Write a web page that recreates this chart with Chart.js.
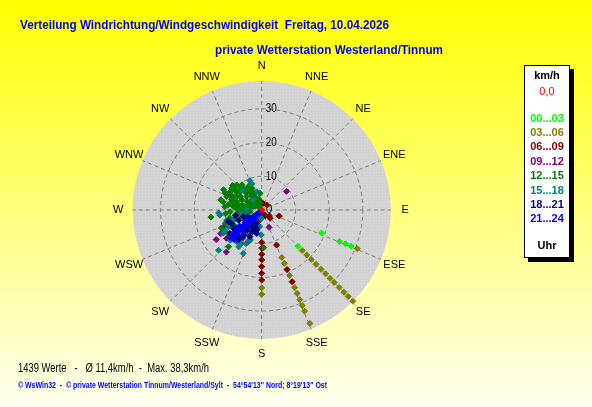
<!DOCTYPE html>
<html>
<head>
<meta charset="utf-8">
<script src="https://cdn.jsdelivr.net/npm/chart.js@4.4.1/dist/chart.umd.min.js"></script>
<style>
  html, body { margin: 0; padding: 0; background: #ffff00; }
  #wrap { width: 592px; height: 407px; }
</style>
</head>
<body>
<div id="wrap"><canvas id="windRose" width="592" height="407"></canvas></div>
<script>
// texts
const titleLine1 = 'Verteilung Windrichtung/Windgeschwindigkeit  Freitag, 10.04.2026';
const titleLine2 = 'private Wetterstation Westerland/Tinnum';
const statsLine = '1439 Werte   -   \u00d8 11,4km/h  -  Max. 38,3km/h';
const footerLine = '\u00a9 WsWin32  -  \u00a9 private Wetterstation Tinnum/Westerland/Sylt  -  54\u00b054\'13\'\' Nord; 8\u00b019\'13\'\' Ost';

// axes
const directionLabels = ['N', 'NNE', 'NE', 'ENE', 'E', 'ESE', 'SE', 'SSE', 'S', 'SSW', 'SW', 'WSW', 'W', 'WNW', 'NW', 'NNW'];
const ringValues = [0, 10, 20, 30];
const maxSpeed = 38.3;

// legend (hour groups)
const groupLabels = ['0,0', '00...03', '03...06', '06...09', '09...12', '12...15', '15...18', '18...21', '21...24'];
const groupColors = ['#ff0000', '#00ff00', '#808000', '#800000', '#800080', '#008000', '#008080', '#000080', '#0000ff'];

// wind direction (deg) and speed (km/h) per hour group
const dirCalm = [0];
const spdCalm = [0];

const dir0003 = [111, 112, 112, 112, 135];
const spd0003 = [19.0, 24.9, 26.8, 28.6, 15.2];

const dir0306 = [112, 135, 135, 135, 135, 135, 135, 135, 135, 135, 135, 135, 135,
  157, 157, 157, 157, 157, 157, 157, 157, 157, 180, 180];
const spd0306 = [30.6, 17.0, 18.9, 20.8, 22.8, 24.9, 26.8, 28.7, 30.4, 32.5, 34.5, 36.3, 38.3,
  15.3, 17.2, 21.1, 25.0, 26.9, 28.9, 30.8, 32.6, 36.6, 23.1, 25.0];

const dir0609 = [180, 180, 180, 180, 180, 180, 180, 157, 157, 157, 135, 109, 128, 333, 0, 199, 162,
  202, 192, 180, 330, 355, 10, 200, 170, 150, 45, 146];
const spd0609 = [9.6, 11.3, 13.1, 14.8, 16.8, 18.8, 20.8, 11.3, 19.2, 23.1, 3.5, 5.5, 2.9, 2.2, 2.2, 1.6, 1.6,
  9.4, 4.8, 1.5, 2.4, 2.3, 2.0, 1.7, 1.6, 2.0, 2.1, 1.8];

const dir0912 = [53, 157, 237, 220, 231, 265, 214, 227, 246, 266, 239, 231, 225, 296, 207, 190, 203, 250, 285, 240, 218];
const spd0912 = [9.2, 5.6, 16.1, 16.3, 13.4, 5.5, 10.0, 12.2, 12.4, 6.9, 5.8, 10.2, 8.4, 10.4, 5.5, 3.0, 10.2, 9.0, 8.0, 14.0, 7.0];

const dir1215 = [300, 307, 310, 320, 327, 338, 339, 291, 289, 298, 297, 312, 315, 329, 279, 277, 282, 280, 291, 292,
  315, 267, 259, 266, 259, 262, 262, 295, 282, 319, 330, 344, 246, 222, 177, 238, 213, 217, 333, 315, 306, 354, 346,
  286, 302, 293, 310, 273, 285, 300, 325, 270, 305, 336, 322,
  275, 284, 298, 305, 312, 318, 325, 332, 340, 288, 295, 270, 264, 256, 252, 250, 244, 233, 300, 283];
const spd1215 = [10.8, 9.9, 8.4, 7.7, 6.4, 5.4, 8.3, 11.1, 9.4, 8.4, 6.6, 6.0, 4.2, 2.9, 10.0, 8.5, 7.1, 5.5, 4.3, 2.7,
  1.4, 9.4, 8.0, 6.4, 5.1, 3.5, 15.2, 12.0, 11.7, 9.1, 8.0, 3.6, 13.1, 14.7, 11.2, 9.3, 8.2, 2.5, 5.6, 10.5, 11.0, 5.0, 2.1,
  9.0, 7.5, 10.0, 11.3, 7.5, 6.0, 5.0, 5.0, 4.0, 3.5, 7.0, 9.5,
  11.0, 12.5, 12.8, 9.0, 8.9, 6.8, 7.2, 4.5, 3.0, 7.8, 9.2, 6.5, 10.8, 9.8, 7.0, 11.5, 10.5, 12.0, 2.2, 3.5];

const dir1518 = [338, 339, 316, 266, 263, 227, 203, 240, 243, 226, 218, 211, 181, 187, 182, 255, 250, 270, 260, 254,
  239, 209, 201, 212, 320, 345, 232, 205];
const spd1518 = [9.4, 8.5, 8.2, 12.8, 12.5, 17.5, 14.0, 12.6, 11.1, 12.9, 12.0, 11.5, 7.4, 5.0, 2.5, 7.7, 8.9, 4.5, 6.0, 10.8,
  13.3, 7.3, 9.6, 12.9, 3.9, 5.6, 9.0, 11.0];

const dir1821 = [201, 211, 217, 217, 227, 237, 218, 204, 197, 196, 250, 246, 246, 216, 243, 216, 234, 192, 251, 220,
  203, 194, 230, 258];
const spd1821 = [4.3, 5.8, 7.4, 9.9, 10.1, 10.0, 11.3, 8.6, 6.7, 5.6, 5.8, 7.5, 9.8, 4.3, 4.5, 9.2, 11.7, 7.1, 10.5, 8.4,
  7.0, 6.1, 8.0, 8.0];

const dir2124 = [225, 225, 226, 226, 227, 227, 228, 228, 229, 229, 230, 230, 224, 224, 223, 222, 231, 232, 233, 234,
  221, 220, 235, 236, 226, 228, 230, 224, 222, 232];
const spd2124 = [0.7, 1.4, 2.4, 3.0, 4.1, 4.6, 5.7, 6.2, 7.3, 7.8, 8.9, 9.4, 10.4, 11.2, 12.0, 6.1, 2.1, 3.8, 6.3, 8.1,
  3.4, 8.6, 5.2, 9.3, 10.9, 12.3, 11.6, 1.2, 4.4, 3.1];

const groupDirs = [dirCalm, dir0003, dir0306, dir0609, dir0912, dir1215, dir1518, dir1821, dir2124];
const groupSpeeds = [spdCalm, spd0003, spd0306, spd0609, spd0912, spd1215, spd1518, spd1821, spd2124];

const FONT = "'Liberation Sans', Arial, sans-serif";
const rad = d => d * Math.PI / 180;

// polar -> x (east) / y (north) in km/h
function toPoints(dirs, speeds) {
  return dirs.map((d, i) => ({ x: speeds[i] * Math.sin(rad(d)), y: speeds[i] * Math.cos(rad(d)) }));
}

const roseBackground = {
  id: 'roseBackground',
  beforeDraw(chart) {
    const { ctx, scales: { x, y } } = chart;
    const cx = x.getPixelForValue(0);
    const cy = y.getPixelForValue(0);
    const unit = x.getPixelForValue(1) - cx;
    const rMax = maxSpeed * unit;

    ctx.save();
    // page background
    const g = ctx.createLinearGradient(0, 0, 0, chart.height);
    g.addColorStop(0, '#ffff00');
    g.addColorStop(1, '#fffff0');
    ctx.fillStyle = g;
    ctx.fillRect(0, 0, chart.width, chart.height);

    // dotted grey disk
    const pat = document.createElement('canvas');
    pat.width = 3; pat.height = 3;
    const pc = pat.getContext('2d');
    pc.fillStyle = '#d2d2d2'; pc.fillRect(0, 0, 3, 3);
    pc.fillStyle = '#dcdcdc'; pc.fillRect(1, 1, 1, 1);
    ctx.beginPath();
    ctx.arc(cx, cy, rMax, 0, 2 * Math.PI);
    ctx.fillStyle = ctx.createPattern(pat, 'repeat');
    ctx.fill();

    // rings and spokes
    ctx.setLineDash([4, 3]);
    ctx.strokeStyle = '#808080';
    ctx.lineWidth = 1;
    ringValues.forEach(v => {
      if (v <= 0) return;
      ctx.beginPath();
      ctx.arc(cx, cy, v * unit, 0, 2 * Math.PI);
      ctx.stroke();
    });
    directionLabels.forEach((lab, i) => {
      const a = rad(i * 22.5);
      ctx.beginPath();
      ctx.moveTo(cx, cy);
      ctx.lineTo(cx + Math.sin(a) * rMax, cy - Math.cos(a) * rMax);
      ctx.stroke();
    });
    ctx.setLineDash([]);

    // direction labels
    ctx.fillStyle = '#000';
    ctx.font = '11px ' + FONT;
    ctx.textAlign = 'center';
    ctx.textBaseline = 'middle';
    const rLab = 42.6 * unit;
    directionLabels.forEach((lab, i) => {
      const a = rad(i * 22.5);
      ctx.fillText(lab, cx + Math.sin(a) * rLab, cy - Math.cos(a) * rLab);
    });

    // ring values
    ctx.font = '12px ' + FONT;
    ctx.textAlign = 'left';
    ringValues.forEach(v => {
      ctx.fillText(String(v), cx + 4, cy - v * unit, v < 10 ? 7 : 11);
    });

    // titles
    ctx.fillStyle = '#0000f0';
    ctx.font = 'bold 13px ' + FONT;
    ctx.fillText(titleLine1, 20, 25, 369);
    ctx.fillText(titleLine2, 215, 50, 228);

    // statistics and footer
    ctx.fillStyle = '#000';
    ctx.font = '12px ' + FONT;
    ctx.fillText(statsLine, 18, 369, 191);
    ctx.fillStyle = '#0000f0';
    ctx.font = 'bold 9px ' + FONT;
    ctx.fillText(footerLine, 18, 386, 309);

    // legend box
    ctx.fillStyle = '#000';
    ctx.fillRect(528, 69, 46, 193);
    ctx.fillStyle = '#fff';
    ctx.fillRect(524, 65, 46, 193);
    ctx.strokeStyle = '#000';
    ctx.strokeRect(524.5, 65.5, 45, 192);
    ctx.textAlign = 'center';
    ctx.fillStyle = '#000';
    ctx.font = 'bold 11px ' + FONT;
    ctx.fillText('km/h', 547, 76);
    groupLabels.forEach((lab, i) => {
      ctx.fillStyle = groupColors[i];
      ctx.font = (i === 0 ? '' : 'bold ') + '11px ' + FONT;
      const yy = i === 0 ? 92 : 118.5 + (i - 1) * 14.4;
      ctx.fillText(lab, 547, yy);
    });
    ctx.fillStyle = '#000';
    ctx.font = 'bold 11px ' + FONT;
    ctx.fillText('Uhr', 547, 246);
    ctx.restore();
  }
};

// later hours drawn on top, calm dot topmost
const datasets = groupLabels.map((lab, i) => ({
  label: lab,
  data: toPoints(groupDirs[i], groupSpeeds[i]),
  backgroundColor: groupColors[i],
  borderColor: groupColors[i],
  borderWidth: 1,
  pointStyle: 'rectRot',
  pointRadius: 3,
  order: i === 0 ? 0 : groupLabels.length - i
}));

const span = 41.5;
new Chart(document.getElementById('windRose'), {
  type: 'scatter',
  data: { datasets: datasets },
  options: {
    responsive: false,
    animation: false,
    devicePixelRatio: 1,
    layout: { padding: { left: 121.85, right: 190.45, top: 70.15, bottom: 57.15 } },
    plugins: { legend: { display: false }, tooltip: { enabled: false } },
    scales: {
      x: { type: 'linear', min: -span, max: span, display: false },
      y: { type: 'linear', min: -span, max: span, display: false }
    }
  },
  plugins: [roseBackground]
});
</script>
</body>
</html>
